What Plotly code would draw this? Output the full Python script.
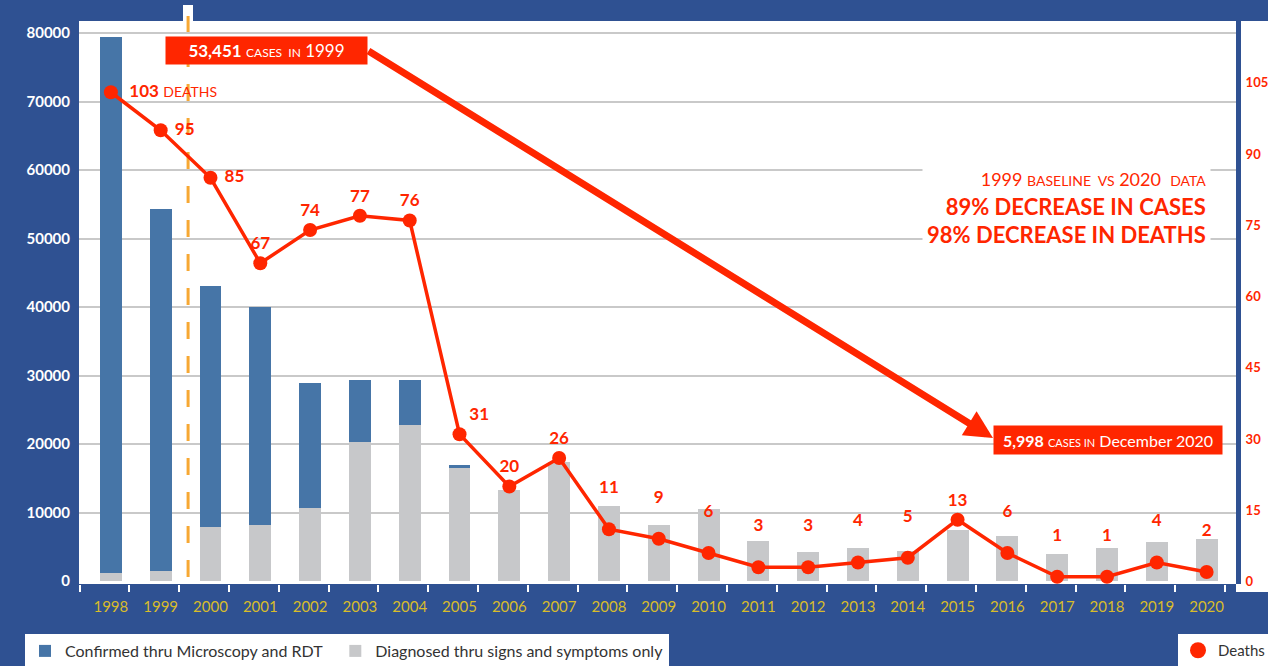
import plotly.graph_objects as go

# ---------------- data ----------------
years = list(range(1998, 2021))
year_labels = [str(y) for y in years]
confirmed = [78200, 52800, 35200, 31800, 18200, 9000, 6500, 400, 0, 0, 0, 0,
             0, 0, 0, 0, 0, 0, 0, 0, 0, 0, 0]
diagnosed = [1200, 1500, 7900, 8200, 10700, 20300, 22800, 16500, 13300, 17400,
             10900, 8200, 10500, 5800, 4200, 4800, 4400, 7400, 6600, 3900,
             4800, 5700, 6100]
deaths = [103, 95, 85, 67, 74, 77, 76, 31, 20, 26, 11, 9, 6, 3, 3, 4, 5, 13,
          6, 1, 1, 4, 2]
case_ticks = list(range(0, 80001, 10000))
death_ticks = list(range(0, 106, 15))

# ---------------- style ----------------
BLUE_BG = "#2F5192"
BAR_BLUE = "#4675A7"
BAR_GRAY = "#C7C8CA"
RED = "#FF2600"
GOLD = "#D8BC2A"
ORANGE = "#F7A833"
FONT = "Lato"

W, H = 1268, 666
ML, MR, MT, MB = 79, 32, 21, 82
PW, PH = W - ML - MR, H - MT - MB


def px(xp):
    return (xp - ML) / PW


def py(yp):
    return (H - MB - yp) / PH


death_text = []
positions = []
for i, d in enumerate(deaths):
    if i == 0:
        death_text.append(f"&nbsp;&nbsp;<b>{d}</b> <span style='font-size:14px'>DEATHS</span>")
    elif i in (1, 2):
        death_text.append(f"&nbsp;<b>{d}</b>")
    elif i >= 10 and d < 13:
        # small counts are labelled higher, clear of the bars
        death_text.append(f"<b>{d}</b><br> ")
    else:
        death_text.append(f"<b>{d}</b>")
    if i <= 2:
        positions.append("middle right")
    elif i == 7:
        positions.append("top right")
    else:
        positions.append("top center")

fig = go.Figure()
fig.add_trace(go.Bar(x=years, y=diagnosed, name="Diagnosed thru signs and symptoms only",
                     marker=dict(color=BAR_GRAY, line=dict(width=0)), width=0.44,
                     legendrank=2, hoverinfo="skip"))
fig.add_trace(go.Bar(x=years, y=confirmed,
                     name="Confirmed thru Microscopy and RDT&nbsp;&nbsp;",
                     marker=dict(color=BAR_BLUE, line=dict(width=0)), width=0.44,
                     legendrank=1, hoverinfo="skip"))
fig.add_trace(go.Scatter(x=years, y=deaths, yaxis="y2", name="Deaths",
                         mode="lines+markers+text", text=death_text,
                         textposition=positions,
                         textfont=dict(color=RED, size=17, family=FONT),
                         line=dict(color=RED, width=3.5),
                         marker=dict(color=RED, size=14),
                         cliponaxis=False, showlegend=False, hoverinfo="skip"))
# legend-only entry for deaths (marker only, as in the original key)
fig.add_trace(go.Scatter(x=[None], y=[None], yaxis="y2", name="Deaths", mode="markers",
                         marker=dict(color=RED, size=16), legend="legend2"))

fig.update_layout(
    width=W, height=H,
    margin=dict(l=ML, r=MR, t=MT, b=MB, pad=0, autoexpand=False),
    paper_bgcolor=BLUE_BG, plot_bgcolor="white",
    barmode="stack", bargap=0.5,
    font=dict(family=FONT),
    xaxis=dict(range=[1997.36, 2020.59], tickmode="array", tickvals=years,
               ticktext=year_labels, tickfont=dict(color=GOLD, size=15, family=FONT),
               showgrid=False, zeroline=False, showline=False, ticks="",
               ticklabelstandoff=12, automargin=False,
               minor=dict(ticks="outside", tick0=1998.37, dtick=1, ticklen=7,
                          tickcolor="white", tickwidth=2, showgrid=False)),
    yaxis=dict(range=[-438, 81752], tickmode="array", tickvals=case_ticks,
               tickformat="d", automargin=False,
               tickfont=dict(color="white", size=15, family=FONT, weight="bold"),
               showgrid=True, gridcolor="#C9C9C9", gridwidth=2,
               zeroline=True, zerolinecolor="white", zerolinewidth=1,
               ticks="", ticklabelstandoff=8),
    yaxis2=dict(range=[-0.53, 118], overlaying="y", side="right", tickmode="array",
                tickvals=death_ticks, automargin=False,
                tickfont=dict(color=RED, size=13, family=FONT, weight="bold"),
                showgrid=False, zeroline=False, showline=True, linecolor=BLUE_BG,
                linewidth=5, ticks="", ticklabelstandoff=2),
    legend=dict(orientation="h", x=px(25), y=py(634), xanchor="left", yanchor="top",
                bgcolor="white", font=dict(color="#333333", size=16, family=FONT),
                traceorder="normal"),
    legend2=dict(orientation="h", x=px(1178), y=py(634), xanchor="left", yanchor="top",
                 bgcolor="white", font=dict(color="#333333", size=15, family=FONT)),
    showlegend=True,
)

fig.add_shape(type="rect", xref="paper", yref="paper", x0=1.0, x1=1.04,
              y0=py(592), y1=1.0, fillcolor="white", line=dict(width=0), layer="below")
fig.add_shape(type="rect", xref="paper", yref="paper", x0=px(183), x1=px(193),
              y0=1.0, y1=py(5), fillcolor="white", line=dict(width=0), layer="below")
fig.add_shape(type="line", xref="x", yref="paper", x0=1999.55, x1=1999.55,
              y0=py(577), y1=py(15), line=dict(color=ORANGE, width=3, dash="17px,17px"),
              layer="below")

# arrow from the 1999 callout to the 2020 callout
fig.add_annotation(xref="paper", yref="paper", x=px(993), y=py(438), ax=-626, ay=-388,
                   text="", showarrow=True, arrowhead=2, arrowsize=0.8, arrowwidth=7,
                   arrowcolor=RED)
fig.add_annotation(xref="paper", yref="paper", x=px(266.5), y=py(50.5), xanchor="center",
                   yanchor="middle",
                   text="<b>53,451</b> <span style='font-size:12px'>CASES  IN</span> 1999",
                   showarrow=False, bgcolor=RED, font=dict(color="white", size=17, family=FONT),
                   width=193, height=19, borderpad=4)
fig.add_annotation(xref="paper", yref="paper", x=px(1108), y=py(440), xanchor="center",
                   yanchor="middle",
                   text="<b>5,998</b> <span style='font-size:11px'>CASES IN</span> December 2020",
                   showarrow=False, bgcolor=RED, font=dict(color="white", size=16, family=FONT),
                   width=220, height=20, borderpad=4)
fig.add_annotation(xref="paper", yref="paper", x=px(1211), y=py(208), xanchor="right",
                   yanchor="middle", align="right",
                   text=("<span style='font-size:18px'>1999 <span style='font-size:14px'>BASELINE  VS</span>"
                         " 2020  <span style='font-size:14px'>DATA</span></span><br>"
                         "<b>89% DECREASE IN CASES</b><br><b>98% DECREASE IN DEATHS</b>"),
                   showarrow=False, bgcolor="white", font=dict(color=RED, size=22, family=FONT),
                   borderpad=4)

fig.write_html("out.html", post_script="document.body.style.margin='0px';",
               config={"displayModeBar": False})
